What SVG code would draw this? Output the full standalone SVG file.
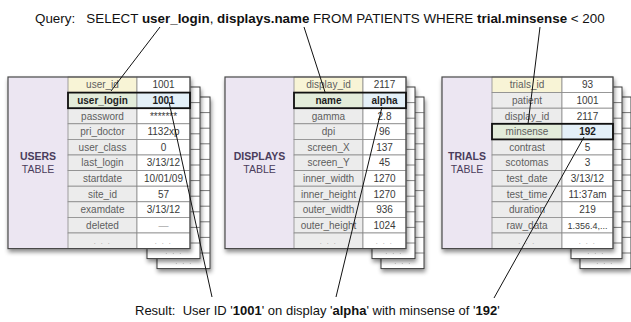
<svg xmlns="http://www.w3.org/2000/svg" width="631" height="322" viewBox="0 0 631 322">
  <style>
    .cap { font-family: "Liberation Sans", Arial, Helvetica, sans-serif; font-size: 13px; fill: #111; }
    .q { font-size: 13.4px; }
    .bold { font-weight: bold; }
    .panel { fill: #ece6f2; }
    .fid { fill: #f8f4d6; stroke: #8c8c8c; stroke-width: 0.8; }
    .fcell { fill: #ececec; stroke: #8c8c8c; stroke-width: 0.8; }
    .fhi { fill: #e3ecda; stroke: #8c8c8c; stroke-width: 0.8; }
    .vcell { fill: #ffffff; stroke: #8c8c8c; stroke-width: 0.8; }
    .vhi { fill: #e4f0f8; stroke: #8c8c8c; stroke-width: 0.8; }
    .hibox { fill: none; stroke: #111; stroke-width: 1.8; }
    .frame { fill: none; stroke: #4a4a4a; stroke-width: 1.2; }
    .page { fill: #ffffff; stroke: #3c3c3c; stroke-width: 1; }
    .rule { fill: none; stroke: #555; stroke-width: 0.8; }
    .t { font-family: "Liberation Sans", Arial, Helvetica, sans-serif; font-size: 10px; text-anchor: middle; }
    .f { fill: #5e5e5e; }
    .v { fill: #3a3a3a; }
    .hb { font-weight: bold; fill: #1e1e1e; }
    .dots { fill: #9a9a9a; font-size: 7px; letter-spacing: 1.6px; }
    .tname { font-family: "Liberation Sans", Arial, Helvetica, sans-serif; font-size: 10.5px; text-anchor: middle; fill: #4a3d5c; }
    .link { fill: none; stroke: #111; stroke-width: 1; }
  </style>
  <defs>
    <filter id="shadow" x="-10%" y="-10%" width="130%" height="130%">
      <feDropShadow dx="1" dy="3" stdDeviation="2" flood-color="#000" flood-opacity="0.45"/>
    </filter>
    <!-- one blank record page: value column with 11 ruled rows -->
    <path id="rules51" d="M0,15.6H53M0,31.2H53M0,46.8H53M0,62.4H53M0,78H53M0,93.6H53M0,109.2H53M0,124.8H53M0,140.4H53M0,156H53"/>
  </defs>

  <!-- query caption -->
  <text class="cap q" x="35" y="23" xml:space="preserve">Query:   SELECT <tspan class="bold">user_login</tspan>, <tspan class="bold">displays.name</tspan> FROM PATIENTS WHERE <tspan class="bold">trial.minsense</tspan> &lt; 200</text>

  <!-- USERS table -->
  <g id="users">
    <g filter="url(#shadow)">
      <rect class="page" x="157" y="97" width="53" height="171.6"/>
      <use href="#rules51" transform="translate(157,97)" class="rule"/>
      <text class="t dots" x="184" y="264">. . .</text>
    </g>
    <g filter="url(#shadow)">
      <rect class="page" x="147" y="87" width="53" height="171.6"/>
      <use href="#rules51" transform="translate(147,87)" class="rule"/>
      <text class="t dots" x="174" y="254">. . .</text>
    </g>
    <g filter="url(#shadow)">
      <rect class="panel" x="8" y="77" width="60" height="171.6"/>
      <rect class="fid" x="68" y="77" width="69" height="15.6"/>
      <rect class="fhi" x="68" y="92.6" width="69" height="15.6"/>
      <rect class="fcell" x="68" y="108.2" width="69" height="15.6"/>
      <rect class="fcell" x="68" y="123.8" width="69" height="15.6"/>
      <rect class="fcell" x="68" y="139.4" width="69" height="15.6"/>
      <rect class="fcell" x="68" y="155" width="69" height="15.6"/>
      <rect class="fcell" x="68" y="170.6" width="69" height="15.6"/>
      <rect class="fcell" x="68" y="186.2" width="69" height="15.6"/>
      <rect class="fcell" x="68" y="201.8" width="69" height="15.6"/>
      <rect class="fcell" x="68" y="217.4" width="69" height="15.6"/>
      <rect class="fcell" x="68" y="233" width="69" height="15.6"/>
      <rect class="vcell" x="137" y="77" width="53" height="15.6"/>
      <rect class="vhi" x="137" y="92.6" width="53" height="15.6"/>
      <rect class="vcell" x="137" y="108.2" width="53" height="15.6"/>
      <rect class="vcell" x="137" y="123.8" width="53" height="15.6"/>
      <rect class="vcell" x="137" y="139.4" width="53" height="15.6"/>
      <rect class="vcell" x="137" y="155" width="53" height="15.6"/>
      <rect class="vcell" x="137" y="170.6" width="53" height="15.6"/>
      <rect class="vcell" x="137" y="186.2" width="53" height="15.6"/>
      <rect class="vcell" x="137" y="201.8" width="53" height="15.6"/>
      <rect class="vcell" x="137" y="217.4" width="53" height="15.6"/>
      <rect class="vcell" x="137" y="233" width="53" height="15.6"/>
      <rect class="frame" x="8" y="77" width="182" height="171.6"/>
    </g>
    <rect class="hibox" x="68" y="92.6" width="122" height="15.6"/>
    <text class="tname" x="38" y="160"><tspan font-weight="bold">USERS</tspan><tspan x="38" y="172.5">TABLE</tspan></text>
    <g class="t f">
      <text x="102.5" y="88.3">user_id</text>
      <text x="102.5" y="103.9" class="hb">user_login</text>
      <text x="102.5" y="119.5">password</text>
      <text x="102.5" y="135.1">pri_doctor</text>
      <text x="102.5" y="150.7">user_class</text>
      <text x="102.5" y="166.3">last_login</text>
      <text x="102.5" y="181.9">startdate</text>
      <text x="102.5" y="197.5">site_id</text>
      <text x="102.5" y="213.1">examdate</text>
      <text x="102.5" y="228.7">deleted</text>
      <text x="102.5" y="243.5" class="dots">. . .</text>
    </g>
    <g class="t v">
      <text x="163.5" y="88.3">1001</text>
      <text x="163.5" y="103.9" class="hb">1001</text>
      <text x="163.5" y="119.5">*******</text>
      <text x="163.5" y="135.1">1132xp</text>
      <text x="163.5" y="150.7">0</text>
      <text x="163.5" y="166.3">3/13/12</text>
      <text x="163.5" y="181.9">10/01/09</text>
      <text x="163.5" y="197.5">57</text>
      <text x="163.5" y="213.1">3/13/12</text>
      <text x="163.5" y="228.7" fill="#aaa">—</text>
      <text x="163.5" y="243.5" class="dots">. . .</text>
    </g>
  </g>

  <!-- DISPLAYS table -->
  <g id="displays">
    <g filter="url(#shadow)">
      <rect class="page" x="381" y="97" width="43" height="171.6"/>
      <use href="#rules51" transform="translate(381,97) scale(0.82,1)" class="rule"/>
      <text class="t dots" x="403" y="264">. . .</text>
    </g>
    <g filter="url(#shadow)">
      <rect class="page" x="372" y="87" width="43" height="171.6"/>
      <use href="#rules51" transform="translate(372,87) scale(0.82,1)" class="rule"/>
      <text class="t dots" x="394" y="254">. . .</text>
    </g>
    <g filter="url(#shadow)">
      <rect class="panel" x="225" y="77" width="69" height="171.6"/>
      <rect class="fid" x="294" y="77" width="69" height="15.6"/>
      <rect class="fhi" x="294" y="92.6" width="69" height="15.6"/>
      <rect class="fcell" x="294" y="108.2" width="69" height="15.6"/>
      <rect class="fcell" x="294" y="123.8" width="69" height="15.6"/>
      <rect class="fcell" x="294" y="139.4" width="69" height="15.6"/>
      <rect class="fcell" x="294" y="155" width="69" height="15.6"/>
      <rect class="fcell" x="294" y="170.6" width="69" height="15.6"/>
      <rect class="fcell" x="294" y="186.2" width="69" height="15.6"/>
      <rect class="fcell" x="294" y="201.8" width="69" height="15.6"/>
      <rect class="fcell" x="294" y="217.4" width="69" height="15.6"/>
      <rect class="fcell" x="294" y="233" width="69" height="15.6"/>
      <rect class="vcell" x="363" y="77" width="43" height="15.6"/>
      <rect class="vhi" x="363" y="92.6" width="43" height="15.6"/>
      <rect class="vcell" x="363" y="108.2" width="43" height="15.6"/>
      <rect class="vcell" x="363" y="123.8" width="43" height="15.6"/>
      <rect class="vcell" x="363" y="139.4" width="43" height="15.6"/>
      <rect class="vcell" x="363" y="155" width="43" height="15.6"/>
      <rect class="vcell" x="363" y="170.6" width="43" height="15.6"/>
      <rect class="vcell" x="363" y="186.2" width="43" height="15.6"/>
      <rect class="vcell" x="363" y="201.8" width="43" height="15.6"/>
      <rect class="vcell" x="363" y="217.4" width="43" height="15.6"/>
      <rect class="vcell" x="363" y="233" width="43" height="15.6"/>
      <rect class="frame" x="225" y="77" width="181" height="171.6"/>
    </g>
    <rect class="hibox" x="294" y="92.6" width="112" height="15.6"/>
    <text class="tname" x="259.5" y="160"><tspan font-weight="bold">DISPLAYS</tspan><tspan x="259.5" y="172.5">TABLE</tspan></text>
    <g class="t f">
      <text x="328.5" y="88.3">display_id</text>
      <text x="328.5" y="103.9" class="hb">name</text>
      <text x="328.5" y="119.5">gamma</text>
      <text x="328.5" y="135.1">dpi</text>
      <text x="328.5" y="150.7">screen_X</text>
      <text x="328.5" y="166.3">screen_Y</text>
      <text x="328.5" y="181.9">inner_width</text>
      <text x="328.5" y="197.5">inner_height</text>
      <text x="328.5" y="213.1">outer_width</text>
      <text x="328.5" y="228.7">outer_height</text>
      <text x="328.5" y="243.5" class="dots">. . .</text>
    </g>
    <g class="t v">
      <text x="384.5" y="88.3">2117</text>
      <text x="384.5" y="103.9" class="hb">alpha</text>
      <text x="384.5" y="119.5">2.8</text>
      <text x="384.5" y="135.1">96</text>
      <text x="384.5" y="150.7">137</text>
      <text x="384.5" y="166.3">45</text>
      <text x="384.5" y="181.9">1270</text>
      <text x="384.5" y="197.5">1270</text>
      <text x="384.5" y="213.1">936</text>
      <text x="384.5" y="228.7">1024</text>
      <text x="384.5" y="243.5" class="dots">. . .</text>
    </g>
  </g>

  <!-- TRIALS table -->
  <g id="trials">
    <g filter="url(#shadow)">
      <rect class="page" x="580" y="97" width="51" height="171.6"/>
      <use href="#rules51" transform="translate(580,97)" class="rule"/>
      <text class="t dots" x="605" y="264">. . .</text>
    </g>
    <g filter="url(#shadow)">
      <rect class="page" x="571" y="87" width="51" height="171.6"/>
      <use href="#rules51" transform="translate(571,87) scale(0.96,1)" class="rule"/>
      <text class="t dots" x="596" y="254">. . .</text>
    </g>
    <g filter="url(#shadow)">
      <rect class="panel" x="442" y="77" width="50" height="171.6"/>
      <rect class="fid" x="492" y="77" width="70" height="15.6"/>
      <rect class="fcell" x="492" y="92.6" width="70" height="15.6"/>
      <rect class="fcell" x="492" y="108.2" width="70" height="15.6"/>
      <rect class="fhi" x="492" y="123.8" width="70" height="15.6"/>
      <rect class="fcell" x="492" y="139.4" width="70" height="15.6"/>
      <rect class="fcell" x="492" y="155" width="70" height="15.6"/>
      <rect class="fcell" x="492" y="170.6" width="70" height="15.6"/>
      <rect class="fcell" x="492" y="186.2" width="70" height="15.6"/>
      <rect class="fcell" x="492" y="201.8" width="70" height="15.6"/>
      <rect class="fcell" x="492" y="217.4" width="70" height="15.6"/>
      <rect class="fcell" x="492" y="233" width="70" height="15.6"/>
      <rect class="vcell" x="562" y="77" width="51" height="15.6"/>
      <rect class="vcell" x="562" y="92.6" width="51" height="15.6"/>
      <rect class="vcell" x="562" y="108.2" width="51" height="15.6"/>
      <rect class="vhi" x="562" y="123.8" width="51" height="15.6"/>
      <rect class="vcell" x="562" y="139.4" width="51" height="15.6"/>
      <rect class="vcell" x="562" y="155" width="51" height="15.6"/>
      <rect class="vcell" x="562" y="170.6" width="51" height="15.6"/>
      <rect class="vcell" x="562" y="186.2" width="51" height="15.6"/>
      <rect class="vcell" x="562" y="201.8" width="51" height="15.6"/>
      <rect class="vcell" x="562" y="217.4" width="51" height="15.6"/>
      <rect class="vcell" x="562" y="233" width="51" height="15.6"/>
      <rect class="frame" x="442" y="77" width="171" height="171.6"/>
    </g>
    <rect class="hibox" x="492" y="123.8" width="121" height="15.6"/>
    <text class="tname" x="467" y="160"><tspan font-weight="bold">TRIALS</tspan><tspan x="467" y="172.5">TABLE</tspan></text>
    <g class="t f">
      <text x="527" y="88.3">trials_id</text>
      <text x="527" y="103.9">patient</text>
      <text x="527" y="119.5">display_id</text>
      <text x="527" y="135.1">minsense</text>
      <text x="527" y="150.7">contrast</text>
      <text x="527" y="166.3">scotomas</text>
      <text x="527" y="181.9">test_date</text>
      <text x="527" y="197.5">test_time</text>
      <text x="527" y="213.1">duration</text>
      <text x="527" y="228.7">raw_data</text>
      <text x="527" y="243.5" class="dots">. . .</text>
    </g>
    <g class="t v">
      <text x="587.5" y="88.3">93</text>
      <text x="587.5" y="103.9">1001</text>
      <text x="587.5" y="119.5">2117</text>
      <text x="587.5" y="135.1" class="hb">192</text>
      <text x="587.5" y="150.7">5</text>
      <text x="587.5" y="166.3">3</text>
      <text x="587.5" y="181.9">3/13/12</text>
      <text x="587.5" y="197.5">11:37am</text>
      <text x="587.5" y="213.1">219</text>
      <text x="587.5" y="228.7" font-size="9px">1.356.4,...</text>
      <text x="587.5" y="243.5" class="dots">. . .</text>
    </g>
  </g>

  <!-- connectors from query terms to columns and from values to the result -->
  <g id="connectors" class="link">
    <line x1="160" y1="27" x2="111" y2="91"/>
    <line x1="304" y1="27" x2="325" y2="92"/>
    <line x1="540" y1="27" x2="528" y2="124"/>
    <line x1="169" y1="102" x2="212" y2="297"/>
    <line x1="382" y1="107" x2="336" y2="297"/>
    <line x1="584" y1="137" x2="494" y2="298"/>
  </g>

  <!-- result caption -->
  <text class="cap" x="135" y="315" xml:space="preserve">Result:  User ID '<tspan class="bold">1001</tspan>' on display '<tspan class="bold">alpha</tspan>' with minsense of '<tspan class="bold">192</tspan>'</text>
</svg>
